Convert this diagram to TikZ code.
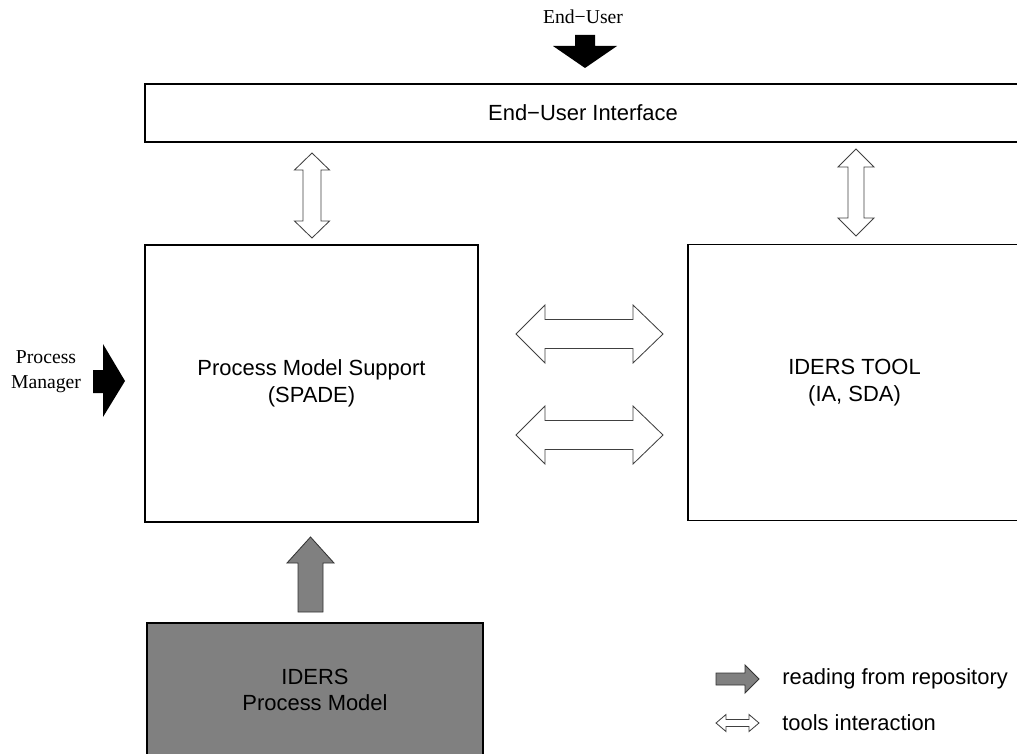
\documentclass[tikz,border=0pt]{standalone}
\usepackage{fontspec}
\setmainfont{Liberation Sans}
\newfontfamily\tnr{Liberation Serif}
\begin{document}
\begin{tikzpicture}[x=0.025cm,y=-0.025cm,
    box/.style={draw,line width=1.3pt,inner sep=0pt,align=center,
        font=\fontsize{15.6}{18.8}\selectfont},
    wharrow/.style={draw=black!75,fill=white,line width=0.6pt,line join=miter},
    blkarrow/.style={fill=black},
    grarrow/.style={draw=black!80,fill=black!50,line width=0.6pt},
    serif/.style={font=\tnr\fontsize{14}{17.8}\selectfont,align=center},
    legend/.style={anchor=west,inner sep=0pt,font=\fontsize{15.6}{18.8}\selectfont}]
        \useasboundingbox (0,0) rectangle (1017,754);
        \clip (0,0) rectangle (1017,754);

        % Boxes
        \node[box,minimum width=21.9cm,minimum height=1.45cm] (eui) at (583,113) {End−User Interface};
        \node[box,minimum width=8.325cm,minimum height=6.925cm] (pms) at (311.5,383.5) {Process Model Support\\(SPADE)};
        \node[box,minimum width=8.325cm,minimum height=6.9cm] (tool) at (854.5,382.5) {IDERS TOOL\\(IA, SDA)};
        \node[box,fill=black!50,minimum width=8.4cm,minimum height=3.35cm] (ipm) at (315,690) {IDERS\\Process Model};

        % Labels
        \node[serif] (user) at (583,17) {End−User};
        \node[serif] (manager) at (46,372) {Process\\Manager};

        % Actor arrows
        \fill[blkarrow] (575,35) -- (595,35) -- (595,46) -- (617,46) -- (585,68) -- (553,46) -- (575,46) -- cycle;
        \fill[blkarrow] (93,370) -- (103,370) -- (103,344) -- (125,381) -- (103,417) -- (103,393) -- (93,393) -- cycle;

        % Interface arrows
        \draw[wharrow] (312,153) -- (329.5,170) -- (321,170) -- (321,221) -- (329.5,221) -- (312,238)
            -- (294.5,221) -- (303,221) -- (303,170) -- (294.5,170) -- cycle;
        \draw[wharrow] (856,149) -- (874,167) -- (864,167) -- (864,218) -- (874,218) -- (856,236)
            -- (838,218) -- (848,218) -- (848,167) -- (838,167) -- cycle;

        % Tools interaction
        \draw[wharrow] (516,334) -- (545,305) -- (545,319.5) -- (633,319.5) -- (633,305) -- (663,334)
            -- (633,363) -- (633,348.5) -- (545,348.5) -- (545,363) -- cycle;
        \draw[wharrow] (516,435) -- (545,406) -- (545,420.5) -- (633,420.5) -- (633,406) -- (663,435)
            -- (633,464) -- (633,449.5) -- (545,449.5) -- (545,464) -- cycle;

        % Reading from repository
        \draw[grarrow] (298,612) -- (298,563) -- (287,563) -- (310.5,537) -- (334,563) -- (323,563) -- (323,612) -- cycle;

        % Legend
        \draw[grarrow] (716,673) -- (745,673) -- (745,665) -- (759,679) -- (745,693) -- (745,685) -- (716,685) -- cycle;
        \draw[wharrow] (716,723) -- (726,714.5) -- (726,719.5) -- (749,719.5) -- (749,714.5) -- (759,723)
            -- (749,731.5) -- (749,726.5) -- (726,726.5) -- (726,731.5) -- cycle;
        \node[legend] (lread) at (782,679) {reading from repository};
        \node[legend] (ltools) at (782,723) {tools interaction};
    \end{tikzpicture}
\end{document}
